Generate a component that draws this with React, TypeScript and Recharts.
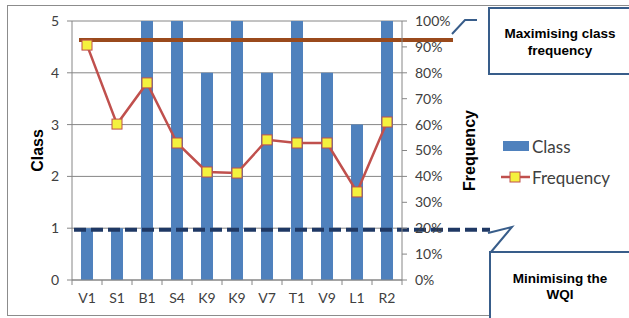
import React from 'react';
import {
  ComposedChart,
  Bar,
  Line,
  XAxis,
  YAxis,
  CartesianGrid,
  ReferenceLine,
  Legend,
} from 'recharts';

// sites along the x axis
const categories = ['V1', 'S1', 'B1', 'S4', 'K9', 'K9', 'V7', 'T1', 'V9', 'L1', 'R2'];
// class of each site (left axis)
const classValues = [1, 1, 5, 5, 4, 5, 4, 5, 4, 3, 5];
// frequency of each site (right axis, fraction)
const frequencyValues = [0.907, 0.602, 0.761, 0.529, 0.417, 0.413, 0.541, 0.529, 0.529, 0.34, 0.61];

const classTicks = [0, 1, 2, 3, 4, 5];
const frequencyTicks = [0, 0.1, 0.2, 0.3, 0.4, 0.5, 0.6, 0.7, 0.8, 0.9, 1];

// target lines
const maxFrequencyTarget = 0.927;
const minClassTarget = 0.97;

const data = categories.map((site, i) => ({
  site,
  classValue: classValues[i],
  frequency: frequencyValues[i],
}));

const AXIS_GREY = '#868686';
const TEXT_GREY = '#404040';
const BAR_BLUE = '#4f81bd';
const LINE_RED = '#c0504d';
const MARKER_YELLOW = '#f4f23e';
const BOX_BLUE = '#385d8a';
const FONT = 'Lato, "Open Sans", sans-serif';

const TICK_SIZE = 5;
const TICK_MARGIN = 8;
const BAND = 30;

const XTick = (props: any) => {
  const { x, y, payload, index } = props;
  const axisY = y - TICK_SIZE - TICK_MARGIN;
  const last = index === categories.length - 1;
  return (
    <g>
      <line x1={x - BAND / 2} x2={x - BAND / 2} y1={axisY} y2={axisY + TICK_SIZE} stroke={AXIS_GREY} />
      {last && (
        <line x1={x + BAND / 2} x2={x + BAND / 2} y1={axisY} y2={axisY + TICK_SIZE} stroke={AXIS_GREY} />
      )}
      <text x={x} y={y} dy="0.71em" textAnchor="middle" fill={TEXT_GREY} fontSize={14} fontFamily={FONT}>
        {payload.value}
      </text>
    </g>
  );
};

const SquareDot = (props: any) => {
  const { cx, cy, index } = props;
  if (cx == null || cy == null) return null;
  return (
    <rect
      key={`dot-${index}`}
      x={cx - 5}
      y={cy - 5}
      width={10}
      height={10}
      fill={MARKER_YELLOW}
      stroke={LINE_RED}
      strokeWidth={1}
    />
  );
};

const AxisTitle = (text: string, dx: number) => (props: any) => {
  const { viewBox } = props;
  const cx = viewBox.x + dx;
  const cy = viewBox.y + viewBox.height / 2;
  return (
    <text
      x={cx}
      y={cy}
      transform={`rotate(-90 ${cx} ${cy})`}
      textAnchor="middle"
      dominantBaseline="central"
      fontFamily='"Liberation Sans", Arial, sans-serif'
      fontWeight="bold"
      fontSize={16}
      fill="#000"
    >
      {text}
    </text>
  );
};

const LegendContent = (props: any) => {
  const payload = props.payload || [];
  return (
    <svg width={130} height={56}>
      {payload.map((item: any, i: number) => {
        const cy = i === 0 ? 13 : 44;
        const isBar = item.type === 'rect' || item.dataKey === 'classValue';
        return (
          <g key={item.value}>
            {isBar ? (
              <rect x={4} y={cy - 5} width={26} height={10} fill={BAR_BLUE} />
            ) : (
              <g>
                <line x1={2} x2={31} y1={cy} y2={cy} stroke={LINE_RED} strokeWidth={2.5} />
                <rect x={11} y={cy - 5} width={10} height={10} fill={MARKER_YELLOW} stroke={LINE_RED} />
              </g>
            )}
            <text x={33} y={cy} dominantBaseline="central" fontSize={17} fontFamily={FONT} fill={TEXT_GREY}>
              {item.value}
            </text>
          </g>
        );
      })}
    </svg>
  );
};

// the target lines run past the plot area towards the callouts
const MaxLine = (props: any) => {
  const { x1, y1, x2, y2 } = props;
  const left = Math.min(x1, x2);
  const right = Math.max(x1, x2);
  return <line x1={left + 7} x2={right + 51} y1={y1} y2={y2} stroke="#9a4a1c" strokeWidth={4} />;
};

const MinLine = (props: any) => {
  const { x1, y1, x2, y2 } = props;
  const left = Math.min(x1, x2);
  const right = Math.max(x1, x2);
  return (
    <g>
      <defs>
        <filter id="dashShadow" x="-5%" y="-200%" width="110%" height="500%">
          <feGaussianBlur stdDeviation="1.8" />
        </filter>
      </defs>
      <line
        x1={left + 2}
        x2={right + 88}
        y1={y1 + 4}
        y2={y2 + 4}
        stroke="#8a8a8a"
        strokeWidth={4}
        strokeDasharray="12 5"
        opacity={0.7}
        filter="url(#dashShadow)"
      />
      <line
        x1={left + 2}
        x2={right + 88}
        y1={y1}
        y2={y2}
        stroke="#1f3864"
        strokeWidth={4}
        strokeDasharray="12 5"
      />
    </g>
  );
};

export default function App() {
  return (
    <div
      style={{
        position: 'absolute',
        left: 0,
        top: 0,
        width: 629,
        height: 318,
        background: '#fff',
        overflow: 'hidden',
        fontFamily: FONT,
      }}
    >
      <svg width={629} height={318} style={{ position: 'absolute', left: 0, top: 0 }}>
        <rect x={7.5} y={5.5} width={640} height={310} fill="none" stroke="#8c8c8c" />
      </svg>

      <div style={{ position: 'absolute', left: 0, top: 0 }}>
        <ComposedChart
          width={629}
          height={318}
          data={data}
          margin={{ top: 21, right: 167, left: 32, bottom: 8 }}
          barSize={12}
        >
          <CartesianGrid yAxisId="left" vertical={false} stroke={AXIS_GREY} strokeWidth={1} />
          <XAxis
            dataKey="site"
            height={30}
            stroke={AXIS_GREY}
            tickLine={false}
            tickSize={TICK_SIZE}
            tickMargin={TICK_MARGIN}
            tick={<XTick />}
            interval={0}
          />
          <YAxis
            yAxisId="left"
            width={40}
            domain={[0, 5]}
            ticks={classTicks}
            stroke={AXIS_GREY}
            tickSize={TICK_SIZE}
            tickMargin={TICK_MARGIN}
            tick={{ fill: TEXT_GREY, fontSize: 14, fontFamily: FONT }}
            label={AxisTitle('Class', 5)}
          />
          <YAxis
            yAxisId="right"
            orientation="right"
            width={60}
            domain={[0, 1]}
            ticks={frequencyTicks}
            stroke={AXIS_GREY}
            tickSize={TICK_SIZE}
            tickMargin={TICK_MARGIN}
            tickFormatter={(v: number) => `${Math.round(v * 100)}%`}
            tick={{ fill: TEXT_GREY, fontSize: 14, fontFamily: FONT, textAnchor: 'start' }}
            label={AxisTitle('Frequency', 67)}
          />
          <Bar yAxisId="left" dataKey="classValue" name="Class" fill={BAR_BLUE} isAnimationActive={false} />
          <Line
            yAxisId="right"
            dataKey="frequency"
            name="Frequency"
            stroke={LINE_RED}
            strokeWidth={2.5}
            dot={<SquareDot />}
            activeDot={false}
            isAnimationActive={false}
          />
          <ReferenceLine yAxisId="right" y={maxFrequencyTarget} shape={MaxLine} />
          <ReferenceLine yAxisId="left" y={minClassTarget} shape={MinLine} />
          <Legend
            layout="vertical"
            align="center"
            verticalAlign="middle"
            content={<LegendContent />}
            wrapperStyle={{ left: 499, top: 133, width: 130, height: 56 }}
          />
        </ComposedChart>
      </div>

      <svg width={629} height={318} style={{ position: 'absolute', left: 0, top: 0, pointerEvents: 'none' }}>
        <polyline points="452,34 465,20 477,20" fill="none" stroke={BOX_BLUE} strokeWidth={2} />
        <rect x={489} y={8} width={150} height={66} fill="#fff" stroke={BOX_BLUE} strokeWidth={2} />
        <text
          x={560}
          textAnchor="middle"
          fontFamily='"Liberation Sans", Arial, sans-serif'
          fontWeight="bold"
          fontSize={13.5}
          fill="#000"
        >
          <tspan x={560} y={38}>Maximising class</tspan>
          <tspan x={560} y={55}>frequency</tspan>
        </text>

        <polyline points="488,233 512,227 491,252" fill="none" stroke={BOX_BLUE} strokeWidth={2} />
        <rect x={490} y={252} width={150} height={80} fill="#fff" stroke={BOX_BLUE} strokeWidth={2} />
        <text
          x={560}
          textAnchor="middle"
          fontFamily='"Liberation Sans", Arial, sans-serif'
          fontWeight="bold"
          fontSize={13.5}
          fill="#000"
        >
          <tspan x={560} y={283}>Minimising the</tspan>
          <tspan x={560} y={299}>WQI</tspan>
        </text>
      </svg>
    </div>
  );
}
